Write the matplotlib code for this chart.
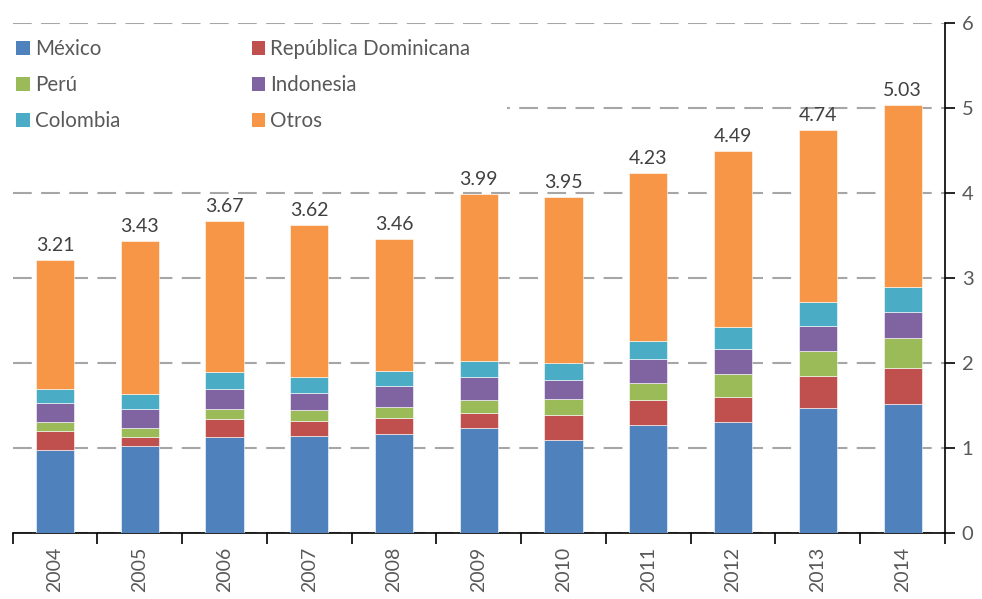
import numpy as np
import matplotlib
matplotlib.use("Agg")
import matplotlib.pyplot as plt
from matplotlib.patches import Patch, Rectangle

years = ["2004", "2005", "2006", "2007", "2008", "2009", "2010", "2011", "2012", "2013", "2014"]
mexico = [0.98, 1.02, 1.13, 1.14, 1.16, 1.23, 1.10, 1.27, 1.31, 1.47, 1.52]
rep_dom = [0.22, 0.11, 0.21, 0.18, 0.19, 0.18, 0.29, 0.29, 0.29, 0.38, 0.42]
peru = [0.11, 0.11, 0.12, 0.13, 0.13, 0.16, 0.19, 0.21, 0.27, 0.29, 0.36]
indonesia = [0.22, 0.22, 0.24, 0.20, 0.25, 0.26, 0.22, 0.28, 0.30, 0.29, 0.30]
colombia = [0.17, 0.17, 0.19, 0.19, 0.18, 0.19, 0.20, 0.21, 0.25, 0.29, 0.29]
totals = [3.21, 3.43, 3.67, 3.62, 3.46, 3.99, 3.95, 4.23, 4.49, 4.74, 5.03]

names = ["México", "República Dominicana", "Perú", "Indonesia", "Colombia", "Otros"]
colors = ["#4F81BD", "#C0504D", "#9BBB59", "#8064A2", "#4BACC6", "#F79646"]

plt.rcParams['font.family'] = ['Lato', 'DejaVu Sans']
TXT = "#595959"

known = np.array([mexico, rep_dom, peru, indonesia, colombia])
otros = np.array(totals) - known.sum(axis=0)
series = list(known) + [otros]

fig = plt.figure(figsize=(9.82, 5.99), dpi=100)
ax = fig.add_axes([12.5 / 982, 1 - 533 / 599, (945 - 12.5) / 982, (533 - 23) / 599])

x = np.arange(len(years))
bottom = np.zeros(len(years))
for vals, c in zip(series, colors):
    ax.bar(x, vals, 0.45, bottom=bottom, color=c, edgecolor="white", linewidth=0.4, zorder=3)
    bottom += vals

for xi, t in zip(x, totals):
    ax.text(xi, t + 0.07, "{:.2f}".format(t), ha="center", va="bottom", fontsize=14, color="#404040")

ax.set_xlim(-0.5, len(years) - 0.5)
ax.set_ylim(0, 6)
ax.set_yticks(range(0, 7))
ax.yaxis.tick_right()
ax.grid(axis="y", color="#A6A6A6", linewidth=1.5, linestyle=(0, (9, 4.5)), zorder=1)

ax.set_xticks(x)
ax.set_xticklabels(years, rotation=90, fontsize=14, color=TXT)
ax.set_xticks(np.arange(-0.5, len(years)), minor=True)
ax.tick_params(axis="x", which="major", length=0, pad=10)
ax.tick_params(axis="x", which="minor", length=8, width=1.2, direction="out")
ax.tick_params(axis="y", length=7, width=1.2, direction="out", labelsize=14.5, labelcolor=TXT, pad=5)

for s in ["left", "top"]:
    ax.spines[s].set_visible(False)
for s in ["right", "bottom"]:
    ax.spines[s].set_linewidth(1.2)
    ax.spines[s].set_color("black")

# white legend area hides the gridline behind it
ax.add_patch(Rectangle((0, 1 - 140 / 599), 507 / 982, 110 / 599, transform=fig.transFigure,
                       facecolor="white", edgecolor="none", zorder=4, clip_on=False))

order = [0, 2, 4, 1, 3, 5]
handles = [Patch(facecolor=colors[i], edgecolor="none") for i in order]
labels = [names[i] for i in order]
leg = ax.legend(handles, labels, ncol=2, loc="upper left",
                bbox_to_anchor=(8 / 982, 1 - 31 / 599), bbox_transform=fig.transFigure,
                frameon=False, fontsize=14.8, handlelength=0.65, handleheight=0.65, handletextpad=0.25,
                labelspacing=0.78, columnspacing=6.4, borderaxespad=0, borderpad=0.4, labelcolor=TXT)
leg.set_zorder(5)

fig.savefig("out.png", dpi=100)
